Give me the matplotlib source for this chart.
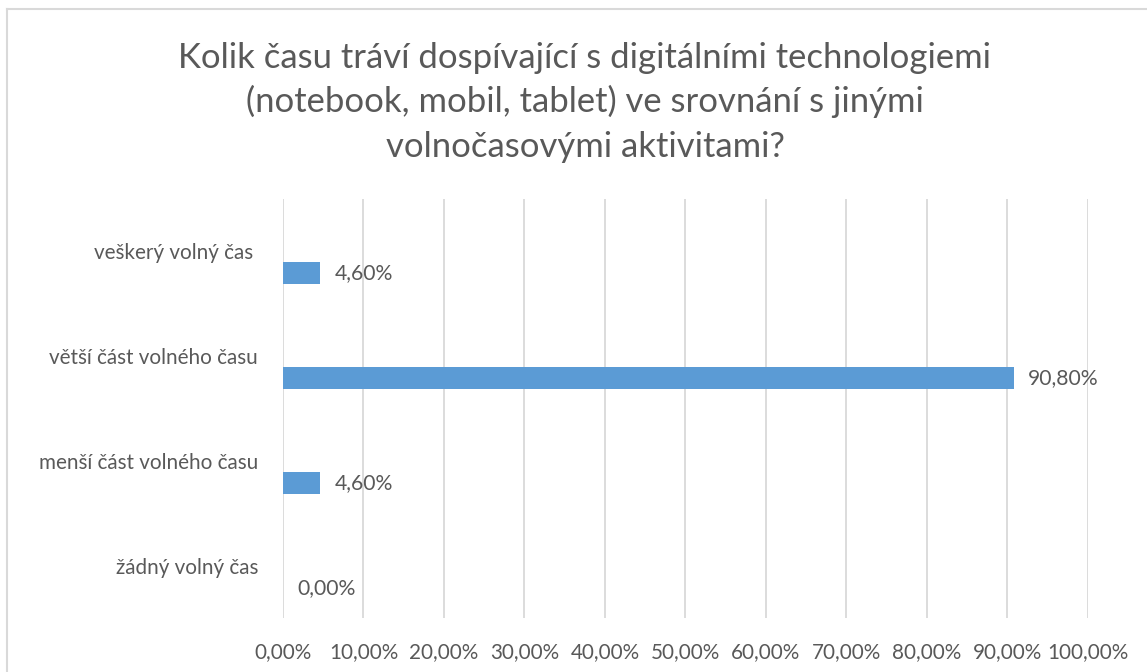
import matplotlib
matplotlib.use("Agg")
import matplotlib.pyplot as plt
from matplotlib.lines import Line2D

plt.rcParams['font.family'] = ['Lato', 'DejaVu Sans']

# ---- data ----
categories = ["žádný volný čas", "menší část volného času", "větší část volného času", "veškerý volný čas "]
values = [0.0, 4.6, 90.8, 4.6]
xticks = [0, 10, 20, 30, 40, 50, 60, 70, 80, 90, 100]
title_lines = ["Kolik času tráví dospívající s digitálními technologiemi",
               "(notebook, mobil, tablet) ve srovnání s jinými",
               "volnočasovými aktivitami?"]

def fmt(v):
    return f"{v:.2f}".replace(".", ",") + "%"

W, H = 1147, 672
DPI = 100
fig = plt.figure(figsize=(W / DPI, H / DPI), dpi=DPI)
fig.patch.set_facecolor("white")

TXT = "#595959"
GRID = "#d9d9d9"
BAR = "#5b9bd5"

x0, x1 = 283, 1087.7
ytop, ybot = 199, 618
ax = fig.add_axes([x0 / W, 1 - ybot / H, (x1 - x0) / W, (ybot - ytop) / H])
ax.set_xlim(0, 100)
ax.set_ylim(-0.5, len(categories) - 0.5)

ypos = list(range(len(categories)))
bar_h = 0.21
bar_y = [y - bar_h for y in ypos]
ax.barh(bar_y, values, height=bar_h, color=BAR, zorder=3)

for y, v in zip(bar_y, values):
    ax.annotate(fmt(v), (v, y), xytext=(14.5, 0), textcoords="offset pixels",
                ha="left", va="center", fontsize=15.2, color=TXT, zorder=4)

ax.set_xticks(xticks)
ax.set_xticklabels([fmt(t) for t in xticks], fontsize=14.9, color=TXT)
ax.set_yticks(ypos)
ax.set_yticklabels(categories, fontsize=14.9, color=TXT)
ax.tick_params(axis="x", length=0, pad=17)
ax.tick_params(axis="y", length=0, pad=18)
ax.xaxis.grid(True, color=GRID, linewidth=1.3, zorder=0)
ax.yaxis.grid(False)
for s in ax.spines.values():
    s.set_visible(False)

# title
tb = [68, 112.5, 157]
for line, yb in zip(title_lines, tb):
    fig.text(585 / W, 1 - yb / H, line, ha="center", va="baseline",
             fontsize=24.9, color=TXT)

# chart border (top and left visible)
fig.add_artist(Line2D([6.5 / W, 1], [1 - 8.5 / H, 1 - 8.5 / H], color=GRID, linewidth=1.5,
                      transform=fig.transFigure))
fig.add_artist(Line2D([6.5 / W, 6.5 / W], [0, 1 - 8.5 / H], color=GRID, linewidth=1.5,
                      transform=fig.transFigure))

fig.savefig("out.png", dpi=DPI, facecolor="white")
